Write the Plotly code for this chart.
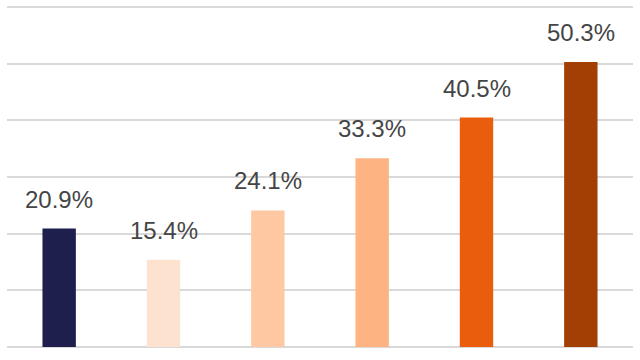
import plotly.graph_objects as go

categories = ["A", "B", "C", "D", "E", "F"]
values = [20.9, 15.4, 24.1, 33.3, 40.5, 50.3]
labels = ["20.9%", "15.4%", "24.1%", "33.3%", "40.5%", "50.3%"]
colors = ["#1f1f4e", "#fde2cf", "#fdc8a2", "#fdb382", "#ea5d0c", "#a33f05"]

fig = go.Figure()
fig.add_trace(go.Bar(x=categories, y=values, marker=dict(color=colors, line=dict(width=0)),
                     hoverinfo="skip"))

for c, v, t in zip(categories, values, labels):
    fig.add_annotation(x=c, y=v, text=t, showarrow=False, yanchor="bottom",
                       yshift=14, font=dict(family="Liberation Sans, Arial, sans-serif",
                                            size=24, color="#454545"))

fig.update_layout(
    width=640, height=360,
    margin=dict(l=7, r=7, t=6, b=13),
    plot_bgcolor="white", paper_bgcolor="white",
    bargap=0.68, showlegend=False,
    xaxis=dict(showticklabels=False, showgrid=False, zeroline=False, showline=False, ticks=""),
    yaxis=dict(range=[0, 60.2], dtick=10, showticklabels=False, showgrid=True,
               gridcolor="#d9d9d9", gridwidth=1.5, zeroline=True, zerolinecolor="#d9d9d9",
               zerolinewidth=1.5, showline=False, ticks=""),
)

fig.write_html("out.html")
